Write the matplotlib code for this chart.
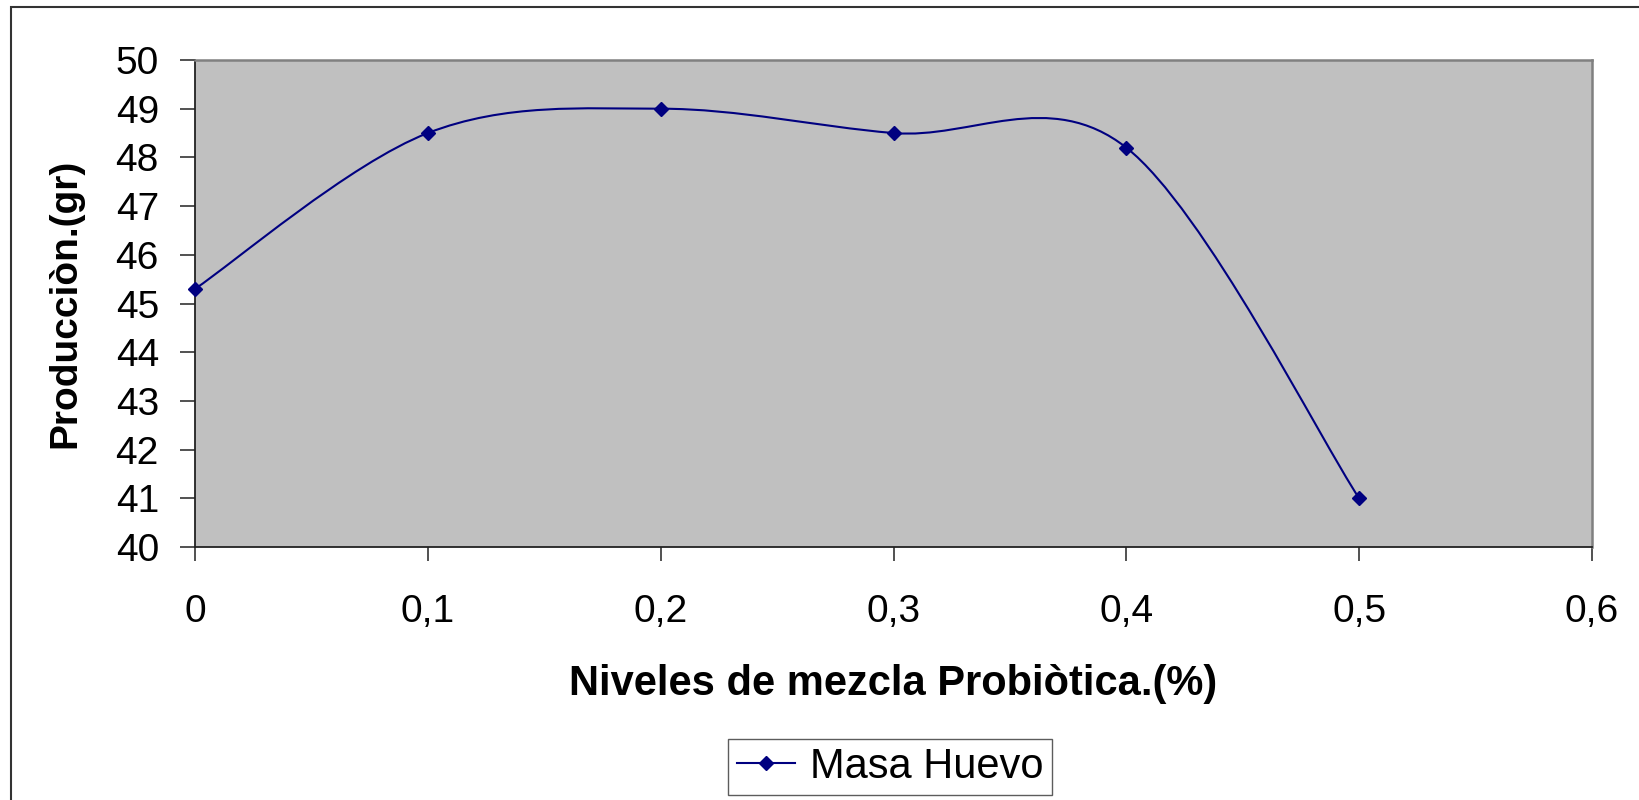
import numpy as np
import matplotlib
matplotlib.use("Agg")
import matplotlib.pyplot as plt
from matplotlib.path import Path
from matplotlib.patches import PathPatch, Rectangle
from matplotlib.lines import Line2D

plt.rcParams['font.family'] = ['Liberation Sans', 'DejaVu Sans']

# --- data ---
niveles = [0.0, 0.1, 0.2, 0.3, 0.4, 0.5]
masa_huevo = [45.3, 48.5, 49.0, 48.5, 48.2, 41.0]
x_ticks = [0.0, 0.1, 0.2, 0.3, 0.4, 0.5, 0.6]
x_tick_labels = ['0', '0,1', '0,2', '0,3', '0,4', '0,5', '0,6']
y_ticks = list(range(40, 51))

navy = '#000080'

W, H = 1639, 800
fig = plt.figure(figsize=(W / 100, H / 100), dpi=100)
ax = fig.add_axes([195 / W, 1 - 547 / H, (1592 - 195) / W, (547 - 60) / H])
ax.set_facecolor('#c0c0c0')

# outer chart border
fig.patches.append(Rectangle((11 / W, -0.1), 1.2, 1 - 6.5 / H + 0.1,
                             transform=fig.transFigure, fill=False,
                             edgecolor='#333333', linewidth=1.5))


# smoothed line (Excel style: Bezier with Catmull-Rom control points)
def smooth_path(xs, ys):
    pts = np.column_stack([xs, ys])
    n = len(pts)
    verts = [pts[0]]
    codes = [Path.MOVETO]
    for i in range(n - 1):
        p0 = pts[max(i - 1, 0)]
        p1 = pts[i]
        p2 = pts[i + 1]
        p3 = pts[min(i + 2, n - 1)]
        c1 = p1 + (p2 - p0) / 6.0
        c2 = p2 - (p3 - p1) / 6.0
        verts += [c1, c2, p2]
        codes += [Path.CURVE4] * 3
    return Path(verts, codes)


ax.add_patch(PathPatch(smooth_path(niveles, masa_huevo), facecolor='none',
                       edgecolor=navy, linewidth=1.5, zorder=3))
ax.plot(niveles, masa_huevo, linestyle='none', marker='D', markersize=7,
        color=navy, zorder=4, clip_on=False)

ax.set_xlim(0, 0.6)
ax.set_ylim(40, 50)
ax.set_xticks(x_ticks)
ax.set_xticklabels(x_tick_labels)
ax.set_yticks(y_ticks)

ax.tick_params(axis='both', labelsize=28, direction='out', width=1.1,
               color='#222222')
ax.tick_params(axis='y', length=11, pad=15)
ax.tick_params(axis='x', length=10, pad=24)

for side in ['left', 'bottom']:
    ax.spines[side].set_color('#222222')
    ax.spines[side].set_linewidth(1.3)
for side in ['top', 'right']:
    ax.spines[side].set_color('#808080')
    ax.spines[side].set_linewidth(1.8)

fig.text(65 / W, 1 - 303 / H, 'Producciòn.(gr)', rotation=90, ha='center',
         va='center', fontsize=28, fontweight='bold')
fig.text(893 / W, 1 - 684 / H, 'Niveles de mezcla Probiòtica.(%)',
         ha='center', va='center', fontsize=30, fontweight='bold')

handle = Line2D([], [], color=navy, linewidth=1.5, marker='D', markersize=7)
leg = fig.legend([handle], ['Masa Huevo'], loc='center',
                 bbox_to_anchor=(890 / W, 1 - 767 / H), fontsize=30,
                 frameon=True, fancybox=False, shadow=False,
                 handlelength=1.4, handletextpad=0.35, borderpad=0.2,
                 borderaxespad=0)
leg.get_frame().set_edgecolor('#333333')
leg.get_frame().set_linewidth(1.0)

fig.savefig('out.png', dpi=100)
